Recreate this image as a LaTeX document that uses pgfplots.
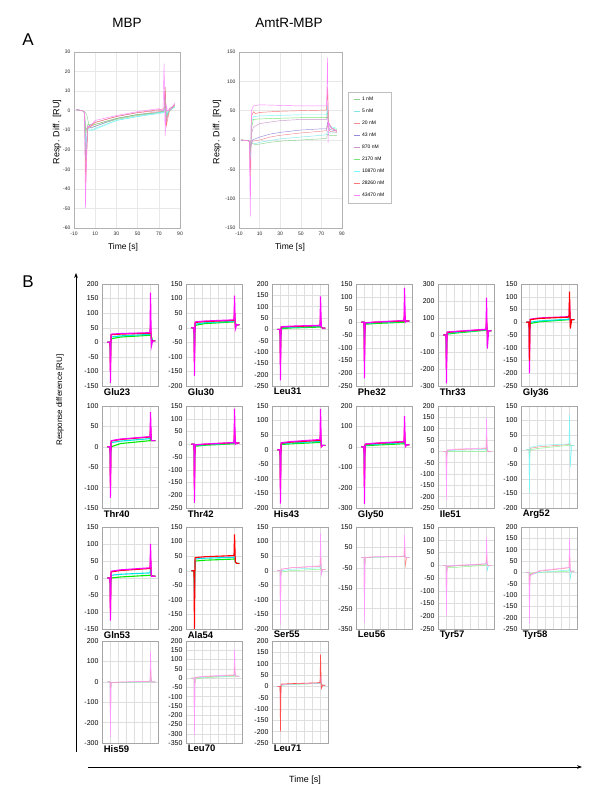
\documentclass[border=0pt]{standalone}
\usepackage{fontspec}
\setmainfont{Liberation Sans}
\usepackage{pgfplots}
\pgfplotsset{compat=1.18}
\usetikzlibrary{arrows.meta}

\definecolor{cG}{RGB}{0,235,0}
\definecolor{cC}{RGB}{0,230,230}
\definecolor{cR}{RGB}{255,0,0}
\definecolor{cM}{RGB}{255,0,255}
% part A colours (legend order)
\definecolor{a1}{RGB}{140,210,140}
\definecolor{a2}{RGB}{130,230,230}
\definecolor{a3}{RGB}{240,140,150}
\definecolor{a4}{RGB}{150,140,220}
\definecolor{a5}{RGB}{200,150,200}
\definecolor{a6}{RGB}{120,230,120}
\definecolor{a7}{RGB}{120,250,250}
\definecolor{a8}{RGB}{250,120,120}
\definecolor{a9}{RGB}{255,130,255}

\tikzset{
  G/.style={cG, line width=1.1pt}, C/.style={cC, line width=1.1pt},
  R/.style={cR, line width=1.1pt}, M/.style={cM, line width=1.1pt},
  pG/.style={cG!45, line width=0.5pt}, pC/.style={cC!50, line width=0.5pt},
  pR/.style={cR!45, line width=0.5pt}, pM/.style={cM!40, line width=0.5pt},
}

\pgfplotsset{
  apanel/.style={scale only axis, anchor=south west, height=176pt,
    xmin=-10, xmax=90, xtick={-10,10,...,90},
    grid=major, grid style={gray!18, line width=0.4pt},
    axis line style={gray!60}, major tick length=0pt,
    ticklabel style={font=\fontsize{5}{5}\selectfont, text=gray!30!black},
    /pgf/number format/assume math mode=true,
    every axis plot/.append style={line width=0.45pt}},
  bpanel/.style={scale only axis, anchor=south west, width=56pt, height=102pt,
    xmin=-15, xmax=90, xtick={-15,0,...,90}, xticklabels={},
    grid=major, grid style={gray!25, line width=0.4pt},
    axis line style={gray!70}, major tick length=0pt,
    yticklabel style={font=\fontsize{7}{7}\selectfont},
    /pgf/number format/assume math mode=true,
    xlabel style={at={(axis description cs:0.03,0)}, anchor=north west,
      inner sep=0pt, yshift=-2pt, font=\bfseries\fontsize{9.5}{10}\selectfont}},
}

% trace: style, dip, level at 2 s, at 20 s, at 75 s, spike, after spike, tail
\newcommand\tr[8]{\addplot[#1] coordinates {(-5,0)(0,0)(0.8,#2)(2,#3)(20,#4)(75,#5)(76,#6)(77.5,#7)(80,#8)(85,#8)};}

\begin{document}
\begin{tikzpicture}
\useasboundingbox (0pt,0pt) rectangle (600pt,801pt);

% ---------------- A ----------------
\node[font=\fontsize{17}{17}\selectfont] at (28pt,761pt) {A};
\node[font=\fontsize{13.5}{14}\selectfont] at (127pt,778pt) {MBP};
\node[font=\fontsize{13.5}{14}\selectfont] at (289pt,778pt) {AmtR-MBP};

\begin{axis}[apanel, at={(74pt,573pt)}, width=106pt, ymin=-60, ymax=30, ytick distance=10]
\addplot[color=a1] coordinates {(-8,0.5)(-2,0)(0,-0.5)(2,-2)(4,-7)(6,-9)(10,-8)(20,-6)(30,-4.5)(50,-2.5)(70,-1)(75,-0.5)(76,2)(77,-1)(80,0)(85,2)};
\addplot[color=a2] coordinates {(-8,0.5)(-2,0)(0,-1)(1,-18)(3,-9)(6,-10)(10,-9)(20,-7)(30,-5)(50,-3)(70,-1.5)(75,-1)(76,5)(77,-2)(80,0)(85,2)};
\addplot[color=a3] coordinates {(-8,0.5)(-2,0)(0,-1)(1,-10)(3,-8)(6,-8)(10,-7)(30,-4)(50,-2)(70,-0.5)(75,0)(76,10)(77,-5)(80,1)(85,3)};
\addplot[color=a4] coordinates {(-8,0.5)(-2,0)(0,-1)(1,-25)(3,-9)(10,-8)(30,-4)(50,-2)(70,-1)(75,0)(76,8)(77,-3)(80,0)(85,3)};
\addplot[color=a5] coordinates {(-8,0.5)(-2,0)(0,-1)(1,-30)(3,-8)(10,-6)(30,-3)(50,-1)(70,0)(75,0.5)(76,12)(77,-6)(80,1)(85,3)};
\addplot[color=a6] coordinates {(-8,0.5)(-2,0)(0,-1)(1,-12)(3,-7)(10,-7)(30,-4)(50,-2)(70,-1)(75,0)(76,6)(77,-3)(80,0)(85,2)};
\addplot[color=a7] coordinates {(-8,0.5)(-2,0)(0,-1)(1,-20)(3,-10)(8,-10)(30,-5)(50,-3)(70,-1)(75,-1)(76,6)(77,-2)(80,0)(85,2)};
\addplot[color=a8] coordinates {(-8,0.5)(-2,0)(0,-1)(1,-38)(3,-9)(10,-6)(30,-3)(50,-1)(70,0.5)(75,1)(76,12)(77,-8)(80,0)(85,3)};
\addplot[color=a9] coordinates {(-8,0.5)(-2,0)(0,-1)(0.8,-50)(2.5,-8)(5,-8)(10,-5)(30,-2.5)(50,-0.5)(70,1)(74,0)(75,24)(76,-13)(77,3)(78,0)(82,1)(85,4)};
\end{axis}
\node[rotate=90, font=\fontsize{9}{9}\selectfont] at (57pt,669pt) {Resp. Diff. [RU]};
\node[font=\fontsize{8.5}{9}\selectfont] at (123pt,554pt) {Time [s]};

\begin{axis}[apanel, at={(239pt,573pt)}, width=103pt, ymin=-150, ymax=150, ytick distance=50,
  legend style={at={(1.06,0.773)}, anchor=north west, draw=gray!50,
    font=\fontsize{5}{5}\selectfont, row sep=3pt, inner xsep=5pt, inner ysep=3pt},
  legend cell align=left,
  legend image code/.code={\draw[#1, line width=0.7pt] (0pt,0pt) -- (6pt,0pt);}]
\addplot[color=a1] coordinates {(-8,0)(-2,-1)(0,-2)(1,-3)(3,-6)(6,-8)(10,-7)(20,-4)(30,-2)(50,0)(70,2)(75,3)(76,10)(78,8)(85,8)};
\addplot[color=a2] coordinates {(-8,0)(-2,-1)(0,-2)(1,-5)(3,-5)(6,-6)(10,-4)(30,2)(50,5)(70,8)(75,9)(76,15)(78,12)(85,12)};
\addplot[color=a3] coordinates {(-8,0)(-2,-1)(0,-2)(1,-10)(3,-2)(10,0)(20,5)(30,8)(50,12)(70,15)(75,16)(76,25)(78,15)(85,13)};
\addplot[color=a4] coordinates {(-8,0)(-2,-1)(0,-2)(1,-15)(3,0)(10,5)(20,10)(30,13)(50,17)(70,19)(75,19)(76,30)(78,18)(85,15)};
\addplot[color=a5] coordinates {(-8,0)(-2,-1)(0,-2)(1,-30)(2,10)(4,22)(10,28)(30,33)(50,35)(70,35)(75,35)(76,40)(77,25)(80,20)(85,15)};
\addplot[color=a6] coordinates {(-8,0)(-2,-1)(0,-2)(1,-40)(2,20)(4,35)(10,36)(30,37)(50,38)(75,38)(76,50)(77,28)(80,20)(85,18)};
\addplot[color=a7] coordinates {(-8,0)(-2,-1)(0,-2)(1,-50)(2,30)(4,40)(10,41)(30,42)(50,43)(75,43)(76,60)(77,28)(80,22)(85,20)};
\addplot[color=a8] coordinates {(-8,0)(-2,-1)(0,-2)(1,-70)(2,40)(4,48)(6,45)(10,47)(30,49)(50,50)(75,51)(76,90)(77,30)(80,20)(85,15)};
\addplot[color=a9] coordinates {(-8,0)(-2,-1)(0,-2)(1,-130)(2,50)(4,58)(10,60)(30,59)(50,58)(75,58)(76,140)(76.5,-5)(77,30)(80,20)(85,15)};
\legend{1 nM, 5 nM, 20 nM, 43 nM, 870 nM, 2170 nM, 10870 nM, 28260 nM, 43470 nM}
\end{axis}
\node[rotate=90, font=\fontsize{9}{9}\selectfont] at (217pt,669pt) {Resp. Diff. [RU]};
\node[font=\fontsize{8.5}{9}\selectfont] at (290pt,554pt) {Time [s]};

% ---------------- B ----------------
\node[font=\fontsize{17}{17}\selectfont] at (28pt,519pt) {B};
\draw[line width=0.9pt, -{Stealth[length=5pt]}] (76pt,49pt) -- (76pt,528pt);
\draw[line width=0.9pt, -{Stealth[length=5pt]}] (88pt,34pt) -- (582pt,34pt);
\node[rotate=90, font=\fontsize{8}{8}\selectfont] at (60pt,401pt) {Response difference [RU]};
\node[font=\fontsize{9}{9}\selectfont] at (305pt,21pt) {Time [s]};

% row 1
\begin{axis}[bpanel, at={(102pt,415pt)}, xlabel={Glu23}, ymin=-150, ymax=200, ytick distance=50]
\tr{G}{-30}{12}{18}{24}{30}{20}{5}
\tr{C}{-60}{18}{22}{27}{40}{15}{5}
\tr{R}{-100}{26}{28}{31}{60}{10}{5}
\tr{M}{-140}{28}{30}{33}{170}{-15}{5}
\end{axis}
\begin{axis}[bpanel, at={(186pt,415pt)}, xlabel={Glu30}, ymin=-200, ymax=150, ytick distance=50]
\tr{G}{-50}{8}{14}{20}{30}{15}{10}
\tr{C}{-80}{12}{17}{22}{40}{12}{10}
\tr{R}{-120}{18}{21}{25}{60}{5}{10}
\tr{M}{-165}{20}{23}{27}{110}{-5}{10}
\end{axis}
\begin{axis}[bpanel, at={(272pt,415pt)}, xlabel={Leu31}, ymin=-250, ymax=200, ytick distance=50]
\tr{G}{-50}{3}{6}{10}{20}{10}{5}
\tr{C}{-100}{6}{9}{13}{30}{10}{5}
\tr{R}{-150}{10}{12}{16}{60}{10}{5}
\tr{M}{-225}{12}{14}{18}{145}{10}{5}
\end{axis}
\begin{axis}[bpanel, at={(356pt,415pt)}, xlabel={Phe32}, ymin=-250, ymax=150, ytick distance=50]
\tr{G}{-60}{-8}{-5}{0}{10}{5}{5}
\tr{C}{-100}{-5}{-2}{3}{20}{5}{5}
\tr{R}{-150}{-3}{0}{5}{40}{5}{5}
\tr{M}{-220}{-2}{1}{7}{135}{0}{5}
\end{axis}
\begin{axis}[bpanel, at={(438pt,415pt)}, xlabel={Thr33}, ymin=-300, ymax=300, ytick distance=100]
\tr{G}{-80}{5}{12}{28}{40}{25}{25}
\tr{C}{-150}{10}{16}{30}{60}{25}{25}
\tr{R}{-200}{15}{20}{32}{100}{0}{25}
\tr{M}{-285}{18}{22}{34}{220}{-80}{25}
\end{axis}
\begin{axis}[bpanel, at={(521pt,415pt)}, xlabel={Gly36}, ymin=-250, ymax=150, ytick distance=50]
\tr{G}{-30}{-5}{2}{10}{20}{10}{10}
\tr{C}{-80}{0}{5}{12}{30}{10}{10}
\tr{M}{-200}{12}{17}{22}{80}{0}{10}
\tr{R}{-150}{10}{15}{20}{120}{-25}{10}
\end{axis}

% row 2
\begin{axis}[bpanel, at={(102pt,293pt)}, xlabel={Thr40}, ymin=-150, ymax=100, ytick distance=50]
\tr{G}{-20}{0}{8}{15}{20}{15}{15}
\tr{C}{-60}{10}{14}{20}{30}{15}{15}
\tr{R}{-100}{14}{18}{24}{50}{15}{15}
\tr{M}{-125}{15}{19}{25}{85}{15}{15}
\end{axis}
\begin{axis}[bpanel, at={(186pt,293pt)}, xlabel={Thr42}, ymin=-250, ymax=150, ytick distance=50]
\tr{G}{-50}{-8}{-4}{2}{10}{5}{5}
\tr{C}{-120}{-5}{-2}{4}{30}{5}{5}
\tr{R}{-180}{-3}{0}{6}{60}{5}{5}
\tr{M}{-230}{-2}{1}{7}{140}{0}{5}
\end{axis}
\begin{axis}[bpanel, at={(272pt,293pt)}, xlabel={His43}, ymin=-200, ymax=150, ytick distance=50]
\tr{G}{-40}{18}{20}{25}{30}{15}{15}
\tr{C}{-90}{20}{23}{28}{40}{15}{15}
\tr{R}{-140}{22}{26}{32}{60}{10}{15}
\tr{M}{-185}{24}{28}{35}{140}{10}{15}
\end{axis}
\begin{axis}[bpanel, at={(356pt,293pt)}, xlabel={Gly50}, ymin=-300, ymax=200, ytick distance=100]
\tr{G}{-50}{5}{8}{15}{20}{10}{10}
\tr{C}{-120}{8}{12}{20}{40}{10}{10}
\tr{R}{-200}{12}{16}{24}{80}{10}{10}
\tr{M}{-280}{14}{18}{26}{150}{0}{10}
\end{axis}
\begin{axis}[bpanel, at={(438pt,293pt)}, xlabel={Ile51}, ymin=-250, ymax=200, ytick distance=50]
\tr{pG}{-20}{-2}{0}{0}{10}{0}{0}
\tr{pC}{-60}{3}{5}{8}{30}{5}{0}
\tr{pR}{-120}{5}{8}{12}{60}{5}{0}
\tr{pM}{-215}{6}{10}{15}{150}{0}{0}
\end{axis}
\begin{axis}[bpanel, at={(521pt,293pt)}, xlabel={Arg52}, ymin=-200, ymax=150, ytick distance=50]
\tr{pR}{-30}{5}{10}{18}{30}{15}{15}
\tr{pG}{-50}{0}{5}{15}{20}{15}{15}
\tr{pC}{-150}{8}{15}{20}{120}{-60}{15}
\end{axis}

% row 3
\begin{axis}[bpanel, at={(102pt,172pt)}, xlabel={Gln53}, ymin=-150, ymax=150, ytick distance=50]
\tr{G}{-20}{0}{3}{8}{10}{8}{5}
\tr{C}{-60}{8}{11}{15}{30}{8}{5}
\tr{R}{-100}{18}{22}{28}{60}{8}{5}
\tr{M}{-125}{20}{24}{30}{100}{5}{5}
\end{axis}
\begin{axis}[bpanel, at={(186pt,172pt)}, xlabel={Ala54}, ymin=-200, ymax=150, ytick distance=50]
\tr{G}{-60}{33}{36}{40}{50}{30}{25}
\tr{C}{-100}{40}{43}{46}{60}{30}{25}
\tr{pM}{-160}{44}{47}{50}{80}{30}{25}
\tr{R}{-200}{45}{48}{52}{125}{30}{25}
\end{axis}
\begin{axis}[bpanel, at={(272pt,172pt)}, xlabel={Ser55}, ymin=-200, ymax=150, ytick distance=50]
\tr{pG}{-30}{-5}{0}{5}{10}{5}{5}
\tr{pC}{-80}{0}{5}{10}{30}{5}{5}
\tr{pR}{-150}{5}{10}{15}{60}{0}{5}
\tr{pM}{-185}{5}{10}{17}{130}{-15}{5}
\end{axis}
\begin{axis}[bpanel, at={(356pt,172pt)}, xlabel={Leu56}, ymin=-350, ymax=150, ytick={-350,-250,...,150}]
\tr{pG}{-50}{0}{2}{5}{10}{5}{0}
\tr{pC}{-150}{0}{2}{5}{30}{5}{0}
\tr{pR}{-250}{0}{3}{6}{60}{-40}{0}
\tr{pM}{-320}{2}{4}{7}{110}{0}{0}
\end{axis}
\begin{axis}[bpanel, at={(438pt,172pt)}, xlabel={Tyr57}, ymin=-250, ymax=150, ytick distance=50]
\tr{pG}{-20}{-10}{-8}{0}{5}{0}{0}
\tr{pC}{-60}{-5}{-2}{5}{20}{-20}{0}
\tr{pR}{-150}{-5}{-2}{5}{40}{0}{0}
\tr{pM}{-200}{-3}{0}{6}{110}{0}{0}
\end{axis}
\begin{axis}[bpanel, at={(521pt,172pt)}, xlabel={Tyr58}, ymin=-250, ymax=200, ytick distance=50]
\tr{pG}{-30}{-5}{0}{5}{10}{5}{5}
\tr{pC}{-60}{-10}{0}{10}{20}{-25}{5}
\tr{pR}{-100}{-10}{5}{20}{80}{5}{5}
\tr{pM}{-225}{-15}{8}{22}{150}{5}{5}
\end{axis}

% row 4
\begin{axis}[bpanel, at={(102pt,58pt)}, xlabel={His59}, ymin=-300, ymax=200, ytick distance=100]
\tr{pG}{-50}{-5}{-3}{0}{10}{0}{0}
\tr{pC}{-150}{-5}{-3}{0}{30}{0}{0}
\tr{pR}{-200}{-3}{-2}{2}{60}{0}{0}
\tr{pM}{-270}{-3}{-1}{3}{150}{0}{0}
\end{axis}
\begin{axis}[bpanel, at={(186pt,58pt)}, xlabel={Leu70}, ymin=-350, ymax=200, ytick distance=50]
\tr{pG}{-50}{-5}{2}{10}{20}{10}{10}
\tr{pC}{-150}{0}{5}{12}{40}{10}{10}
\tr{pR}{-250}{3}{8}{15}{60}{10}{10}
\tr{pM}{-310}{5}{10}{18}{155}{10}{10}
\end{axis}
\begin{axis}[bpanel, at={(272pt,58pt)}, xlabel={Leu71}, ymin=-250, ymax=200, ytick distance=50]
\tr{pG}{-30}{5}{8}{12}{20}{10}{5}
\tr{pC}{-60}{5}{9}{13}{40}{10}{5}
\tr{pM}{-100}{8}{10}{15}{60}{10}{5}
\tr{{cR!70, line width=0.6pt}}{-200}{10}{12}{16}{140}{-10}{5}
\end{axis}
\end{tikzpicture}
\end{document}
